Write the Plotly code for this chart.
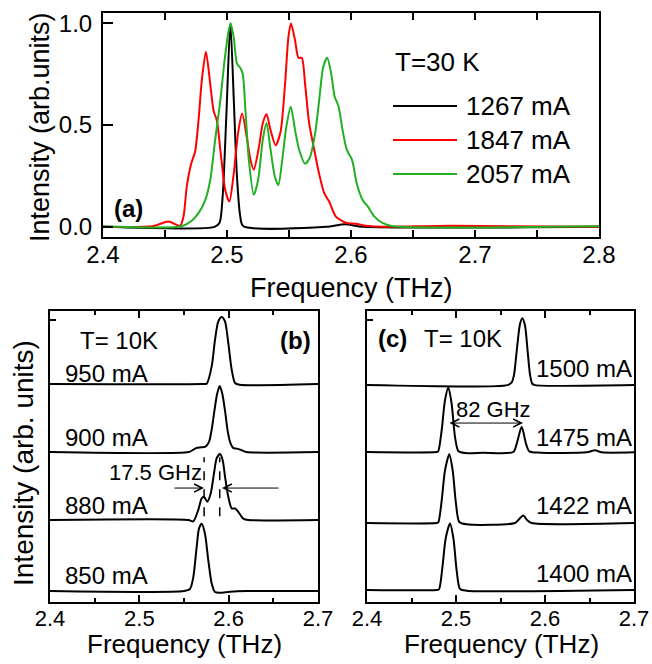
import plotly.graph_objects as go

W, H = 652, 664
FONT = "Liberation Sans, Arial, sans-serif"

# ---------------- Panel (a): T = 30 K ----------------
a_title = "T=30 K"
a_labels = ["1267 mA", "1847 mA", "2057 mA"]
a_colors = ["#000000", "#ff0000", "#22b022"]

a1267_f = [2.40, 2.490, 2.494, 2.4965, 2.4995, 2.5027, 2.5055, 2.508, 2.5105, 2.513, 2.580, 2.595, 2.610, 2.80]
a1267_i = [0.0, 0.0, 0.02, 0.15, 0.55, 1.0, 0.62, 0.25, 0.06, 0.004, 0.0, 0.012, 0.0, 0.0]

a1847_f = [2.40, 2.440, 2.4527, 2.4622, 2.4649, 2.4676, 2.4711, 2.4743, 2.4770, 2.4797, 2.4830,
           2.4865, 2.4892, 2.4919, 2.4946, 2.4986, 2.5019, 2.5054, 2.5089, 2.5122, 2.5162,
           2.5189, 2.5216, 2.5257, 2.5289, 2.5319, 2.5351, 2.5392, 2.5432, 2.5468, 2.5495,
           2.5516, 2.5549, 2.5576, 2.5603, 2.5630, 2.5662, 2.5703, 2.5743, 2.5784, 2.5824,
           2.5878, 2.5959, 2.6041, 2.6122, 2.6257, 2.680, 2.80]
a1847_i = [0.0, 0.003, 0.026, 0.005, 0.05, 0.20, 0.31, 0.37, 0.52, 0.72, 0.86,
           0.70, 0.57, 0.52, 0.38, 0.18, 0.124, 0.26, 0.46, 0.556, 0.43,
           0.33, 0.28, 0.39, 0.51, 0.553, 0.475, 0.40, 0.467, 0.70, 0.93,
           1.0, 0.915, 0.83, 0.83, 0.70, 0.51, 0.38, 0.26, 0.165, 0.124,
           0.05, 0.02, 0.015, 0.005, 0.0, 0.005, 0.0]

a2057_f = [2.40, 2.4635, 2.4716, 2.4770, 2.4824, 2.4865, 2.4905, 2.4946, 2.4981, 2.5014, 2.5030,
           2.5054, 2.5081, 2.5108, 2.5127, 2.5149, 2.5176, 2.5216, 2.5251, 2.5289, 2.5319,
           2.5351, 2.5386, 2.5414, 2.5446, 2.5478, 2.5514, 2.5549, 2.5581, 2.5630, 2.5668,
           2.5711, 2.5743, 2.5776, 2.5808, 2.5841, 2.5868, 2.5900, 2.5932, 2.5965, 2.6008,
           2.6046, 2.6095, 2.6135, 2.6189, 2.6257, 2.6338, 2.80]
a2057_i = [0.003, 0.003, 0.03, 0.067, 0.13, 0.23, 0.43, 0.62, 0.82, 0.964, 1.0,
           0.93, 0.80, 0.78, 0.75, 0.57, 0.33, 0.157, 0.23, 0.43, 0.51,
           0.38, 0.246, 0.205, 0.33, 0.49, 0.59, 0.475, 0.38, 0.31, 0.34,
           0.46, 0.62, 0.785, 0.83, 0.75, 0.64, 0.59, 0.475, 0.38, 0.33,
           0.214, 0.13, 0.10, 0.05, 0.018, 0.003, 0.003]

a_freqs = [a1267_f, a1847_f, a2057_f]
a_ints = [a1267_i, a1847_i, a2057_i]
a_yticks = [0.0, 0.5, 1.0]
x_ticks_a = [2.4, 2.5, 2.6, 2.7, 2.8]

# ---------------- Panel (b): T = 10 K ----------------
b_labels = ["850 mA", "880 mA", "900 mA", "950 mA"]
b_offsets = [0.162, 1.206, 2.206, 3.206]

b850_f = [2.40, 2.550, 2.5567, 2.5604, 2.5642, 2.5668, 2.5698, 2.5735, 2.5772, 2.5810, 2.5847, 2.5903, 2.6015, 2.620, 2.70]
b850_i = [0.0, 0.0, 0.03, 0.20, 0.65, 0.92, 0.99, 0.84, 0.45, 0.11, -0.015, -0.025, -0.01, 0.0, 0.0]

b880_f = [2.40, 2.555, 2.5604, 2.5660, 2.5698, 2.5724, 2.5761, 2.5799, 2.5836, 2.5866, 2.5903,
          2.5933, 2.5959, 2.5996, 2.6034, 2.6071, 2.6108, 2.6164, 2.622, 2.70]
b880_i = [0.0, 0.0, -0.02, 0.15, 0.32, 0.34, 0.27, 0.39, 0.69, 0.91, 0.97,
          0.88, 0.64, 0.34, 0.17, 0.17, 0.12, 0.02, 0.0, 0.0]

b900_f = [2.40, 2.5555, 2.560, 2.564, 2.569, 2.574, 2.578, 2.581, 2.584, 2.587, 2.590,
          2.593, 2.596, 2.599, 2.602, 2.605, 2.609, 2.614, 2.620, 2.70]
b900_i = [0.0, 0.0, 0.03, 0.06, 0.07, 0.08, 0.15, 0.33, 0.60, 0.85, 0.97,
          0.85, 0.60, 0.30, 0.13, 0.06, 0.05, 0.03, 0.0, 0.0]

b950_f = [2.40, 2.570, 2.5754, 2.5810, 2.5847, 2.5884, 2.5921, 2.5959, 2.5996, 2.6034, 2.6071, 2.612, 2.70]
b950_i = [0.0, 0.0, 0.005, 0.26, 0.65, 0.92, 0.985, 0.92, 0.60, 0.21, 0.015, -0.01, 0.0]

b_freqs = [b850_f, b880_f, b900_f, b950_f]
b_ints = [b850_i, b880_i, b900_i, b950_i]
b_mark_freqs = [2.5725, 2.590]        # dashed markers (17.5 GHz spacing)
b_mark_span = [1.26, 2.13]
b_arrow_left = [2.5377, 2.5724]       # tail, head
b_arrow_right = [2.6575, 2.5925]      # tail, head
b_arrow_y = 1.676

# ---------------- Panel (c): T = 10 K ----------------
c_labels = ["1400 mA", "1422 mA", "1475 mA", "1500 mA"]
c_offsets = [0.176, 1.162, 2.206, 3.19]

c1400_f = [2.40, 2.478, 2.4809, 2.4847, 2.4884, 2.4933, 2.4971, 2.5008, 2.5045, 2.512, 2.70]
c1400_i = [0.0, 0.0, 0.01, 0.33, 0.76, 0.98, 0.76, 0.28, 0.015, -0.01, 0.0]

c1422_f = [2.40, 2.478, 2.4801, 2.4839, 2.4876, 2.4925, 2.4963, 2.5000, 2.5037, 2.512, 2.5663, 2.5711, 2.5756, 2.5801, 2.5850, 2.70]
c1422_i = [0.0, 0.0, 0.01, 0.33, 0.77, 1.01, 0.77, 0.28, 0.015, -0.02, 0.0, 0.06, 0.11, 0.04, 0.0, 0.0]

c1475_f = [2.40, 2.478, 2.4800, 2.4839, 2.4876, 2.4914, 2.4951, 2.4989, 2.5026, 2.510, 2.530,
           2.5644, 2.5682, 2.5738, 2.5787, 2.5824, 2.595, 2.6468, 2.6562, 2.6637, 2.70]
c1475_i = [0.0, 0.0, 0.01, 0.32, 0.76, 0.95, 0.71, 0.22, 0.015, -0.015, -0.01,
           0.0, 0.12, 0.37, 0.12, 0.01, -0.01, -0.005, 0.025, -0.005, -0.005]

c1500_f = [2.40, 2.558, 2.5626, 2.5652, 2.5682, 2.5719, 2.5745, 2.5775, 2.5805, 2.5831, 2.5857, 2.5888, 2.70]
c1500_i = [0.0, 0.0, 0.04, 0.15, 0.50, 0.90, 0.985, 0.88, 0.50, 0.16, 0.02, 0.0, 0.0]

c_freqs = [c1400_f, c1422_f, c1475_f, c1500_f]
c_ints = [c1400_i, c1422_i, c1475_i, c1500_i]
c_arrow = [2.491, 2.5753]
c_arrow_y = 2.632

y_range_bc = [0, 4.28]
x_ticks_bc = [2.4, 2.5, 2.6, 2.7]

fig = go.Figure()

for lab, col, f, i in zip(a_labels, a_colors, a_freqs, a_ints):
    fig.add_trace(go.Scatter(x=f, y=i, mode="lines", name=lab,
                             line=dict(color=col, width=2, shape="spline", smoothing=0.7),
                             xaxis="x", yaxis="y", showlegend=False))

for lab, off, f, i in zip(b_labels, b_offsets, b_freqs, b_ints):
    fig.add_trace(go.Scatter(x=f, y=[v + off for v in i], mode="lines", name=lab,
                             line=dict(color="black", width=2, shape="spline", smoothing=0.7),
                             xaxis="x2", yaxis="y2", showlegend=False))

for lab, off, f, i in zip(c_labels, c_offsets, c_freqs, c_ints):
    fig.add_trace(go.Scatter(x=f, y=[v + off for v in i], mode="lines", name=lab,
                             line=dict(color="black", width=2, shape="spline", smoothing=0.7),
                             xaxis="x3", yaxis="y3", showlegend=False))


def px(x, y):
    return x / W, 1 - y / H


axis_common = dict(showline=True, linewidth=2, linecolor="black", showgrid=False,
                   zeroline=False, ticks="inside", tickcolor="black", tickwidth=1.5,
                   automargin=False, ticklabeloverflow="allow",
                   tickfont=dict(family=FONT, size=24, color="black"))
tickfont_bc = dict(family=FONT, size=22, color="black")

fig.update_layout(
    template="none",
    width=W, height=H, margin=dict(l=0, r=0, t=0, b=0),
    paper_bgcolor="white", plot_bgcolor="white",
    font=dict(family=FONT, color="black"),
    showlegend=False,
    xaxis=dict(axis_common, domain=[103 / W, 599 / W], range=[2.4, 2.8], anchor="y",
               tickvals=x_ticks_a, ticktext=[f"{v:.1f}" for v in x_ticks_a], ticklen=7, mirror="ticks",
               minor=dict(dtick=0.05, ticklen=7, ticks="inside", tickcolor="black", tickwidth=1.5),
               ticklabelstandoff=-5),
    yaxis=dict(axis_common, domain=[1 - 237 / H, 1 - 13 / H], range=[-0.05, 1.05], anchor="x",
               tickvals=a_yticks, ticktext=[f"{v:.1f}" for v in a_yticks], ticklen=10, mirror=True,
               ticklabelstandoff=4),
    xaxis2=dict(axis_common, domain=[50 / W, 318 / W], range=[2.4, 2.7], anchor="y2",
                tickvals=x_ticks_bc, ticktext=[f"{v:.1f}" for v in x_ticks_bc], ticklen=7, mirror="ticks",
                minor=dict(dtick=0.05, ticklen=4, ticks="inside", tickcolor="black", tickwidth=1.5),
                ticklabelstandoff=-4, tickfont=tickfont_bc),
    yaxis2=dict(axis_common, domain=[1 - 602 / H, 1 - 311 / H], range=y_range_bc, anchor="x2",
                tickvals=b_offsets + [4.15], ticklen=6, showticklabels=False, mirror=True),
    xaxis3=dict(axis_common, domain=[367 / W, 634 / W], range=[2.4, 2.7], anchor="y3",
                tickvals=x_ticks_bc, ticktext=[f"{v:.1f}" for v in x_ticks_bc], ticklen=7, mirror="ticks",
                minor=dict(dtick=0.05, ticklen=4, ticks="inside", tickcolor="black", tickwidth=1.5),
                ticklabelstandoff=-4, tickfont=tickfont_bc),
    yaxis3=dict(axis_common, domain=[1 - 602 / H, 1 - 311 / H], range=y_range_bc, anchor="x3",
                tickvals=[4.15], ticklen=6, showticklabels=False, mirror=True),
)

ann = []


def text(t, x, y, size, bold=False, angle=0, xanchor="center"):
    xx, yy = px(x, y)
    ann.append(dict(text=f"<b>{t}</b>" if bold else t, x=xx, y=yy, xref="paper", yref="paper",
                    showarrow=False, xanchor=xanchor, yanchor="middle", textangle=angle,
                    font=dict(family=FONT, size=size, color="black")))


shapes = []

# legend for panel (a) (key lines + labels)
text(a_title, 393, 62, 26, xanchor="left")
for lab, col, yy in zip(a_labels, a_colors, [106, 140, 174]):
    x0, y0 = px(393, yy)
    x1, _ = px(457, yy)
    shapes.append(dict(type="line", xref="paper", yref="paper", x0=x0, x1=x1, y0=y0, y1=y0,
                       line=dict(color=col, width=2)))
    text(lab, 464, yy, 26, xanchor="left")

text("(a)", 128, 208, 24, bold=True)
text("Frequency (THz)", 351, 288, 27)
text("Intensity (arb.units)", 40, 127, 27, angle=-90)

text("T= 10K", 119, 340, 24)
text("(b)", 295, 340, 24, bold=True)
for lab, yy in zip(b_labels, [575, 505, 437, 373]):
    text(lab, 106, yy, 24)
text("17.5 GHz", 155, 472, 22)

text("(c)", 392, 338, 24, bold=True)
text("T= 10K", 463, 338, 24)
for lab, yy in zip(c_labels, [573, 505, 437, 368]):
    text(lab, 584, yy, 24)
text("82 GHz", 494, 409, 22)

text("Frequency (THz)", 184, 644, 26)
text("Frequency (THz)", 501, 644, 26)
text("Intensity (arb. units)", 23, 463, 28, angle=-90)

# arrows
for tail, head in [b_arrow_left, b_arrow_right]:
    ann.append(dict(x=head, y=b_arrow_y, ax=tail, ay=b_arrow_y, xref="x2", yref="y2",
                    axref="x2", ayref="y2", showarrow=True, arrowhead=5, arrowsize=1.6,
                    arrowwidth=1, arrowcolor="black", standoff=0, text=""))
ann.append(dict(x=c_arrow[1], y=c_arrow_y, ax=c_arrow[0], ay=c_arrow_y, xref="x3", yref="y3",
                axref="x3", ayref="y3", showarrow=True, arrowhead=5, startarrowhead=5,
                arrowside="end+start", arrowsize=1.6, startarrowsize=1.6,
                arrowwidth=1, arrowcolor="black", standoff=0, startstandoff=0, text=""))

for mf in b_mark_freqs:
    shapes.append(dict(type="line", xref="x2", yref="y2", x0=mf, x1=mf,
                       y0=b_mark_span[0], y1=b_mark_span[1],
                       line=dict(color="black", width=1.5, dash="dash")))

fig.update_layout(annotations=ann, shapes=shapes)

fig.write_html("out.html", config={"displayModeBar": False},
               post_script="document.body.style.margin='0';document.body.style.overflow='hidden';")
